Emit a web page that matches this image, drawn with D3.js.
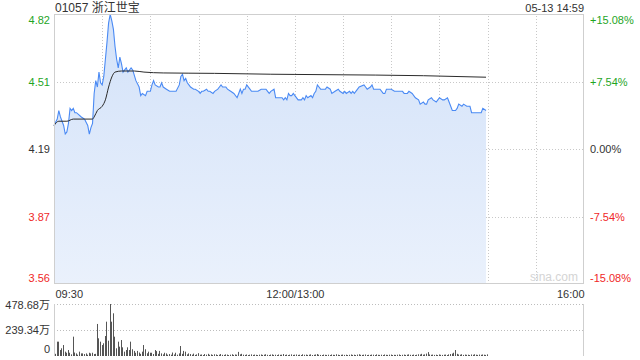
<!DOCTYPE html>
<html><head><meta charset="utf-8">
<script src="https://cdn.jsdelivr.net/npm/d3@7"></script>
<style>
html,body{margin:0;padding:0;background:#fff;}
svg{display:block;font-family:"Liberation Sans",Arial,sans-serif;}
</style></head>
<body>
<svg id="c" width="640" height="360"></svg>
<script>
// ---- data ----
const title = "01057 浙江世宝";
const stamp = "05-13 14:59";
const prevClose = 4.19;
const priceTickLabels = ["4.82", "4.51", "4.19", "3.87", "3.56"];
const pctTickLabels = ["+15.08%", "+7.54%", "0.00%", "-7.54%", "-15.08%"];
const timeLabels = ["09:30", "12:00/13:00", "16:00"];
const timeLabelMinutes = [0, 150, 330];
const volTickLabels = ["478.68万", "239.34万", "0"];
const volTickValues = [478.68, 239.34, 0];

// minutes since 09:30 (lunch break removed) and price
const priceMinutes = [0,2,3,4,6,7,8,9,10,11,12,13,14,17,19,21,22,23,24,25,26,27,28,29,30,31,32,33,34,35,36,37,38,39,40,41,42,43,44,45,46,48,49,51,53,54,55,57,58,60,61,62,63,65,66,67,68,70,72,73,75,76,78,79,80,81,82,83,84,85,87,88,90,91,92,93,95,96,97,99,100,102,103,104,105,107,108,110,112,114,115,116,117,118,119,120,122,123,125,127,129,131,132,133,134,135,137,138,139,141,142,143,144,145,146,147,148,149,150,152,154,155,156,157,158,160,161,162,163,164,165,166,167,169,170,172,173,175,177,178,180,181,182,184,185,186,187,189,190,193,194,195,197,198,199,200,202,203,205,206,207,209,210,212,214,217,218,220,221,223,225,227,228,230,231,232,233,235,236,238,239,240,242,243,245,246,248,250,251,252,254,255,257,259,260,262,263,265,266,267,269];
const prices = [4.30,4.33,4.37,4.34,4.30,4.26,4.27,4.31,4.38,4.37,4.38,4.36,4.36,4.34,4.33,4.30,4.26,4.29,4.31,4.45,4.51,4.48,4.55,4.50,4.49,4.53,4.61,4.69,4.78,4.82,4.79,4.75,4.67,4.61,4.57,4.62,4.59,4.55,4.56,4.57,4.55,4.57,4.56,4.51,4.48,4.44,4.45,4.44,4.46,4.46,4.49,4.51,4.49,4.48,4.48,4.50,4.48,4.47,4.46,4.46,4.46,4.46,4.49,4.53,4.54,4.51,4.52,4.50,4.49,4.48,4.47,4.47,4.46,4.45,4.46,4.46,4.47,4.46,4.46,4.45,4.46,4.47,4.48,4.49,4.48,4.48,4.47,4.46,4.45,4.43,4.45,4.47,4.45,4.47,4.47,4.49,4.47,4.46,4.46,4.46,4.47,4.47,4.47,4.46,4.45,4.46,4.47,4.43,4.43,4.43,4.43,4.42,4.43,4.42,4.45,4.44,4.44,4.45,4.44,4.42,4.42,4.43,4.42,4.44,4.43,4.44,4.43,4.45,4.46,4.49,4.48,4.47,4.47,4.47,4.48,4.47,4.45,4.46,4.47,4.46,4.45,4.46,4.45,4.46,4.45,4.46,4.45,4.47,4.48,4.49,4.48,4.47,4.48,4.49,4.47,4.47,4.47,4.47,4.45,4.45,4.47,4.47,4.47,4.46,4.46,4.46,4.45,4.45,4.46,4.45,4.43,4.42,4.40,4.41,4.40,4.40,4.42,4.43,4.42,4.41,4.42,4.43,4.42,4.42,4.43,4.41,4.37,4.37,4.38,4.40,4.39,4.40,4.39,4.39,4.36,4.36,4.36,4.36,4.36,4.38,4.37];

// average price line
const avgMinutes = [0,3,8,12,19,24,25,27,30,32,34,36,38,42,50,56,68,100,135,150,200,230,269];
const avgPrices = [4.30,4.32,4.32,4.33,4.33,4.33,4.34,4.37,4.39,4.42,4.48,4.527,4.55,4.555,4.555,4.55,4.546,4.544,4.540,4.539,4.536,4.533,4.526];

// volume per minute, in 万 shares (minute 0 .. 269)
const volumes = [20,132,132,55,71,101,40,30,55,30,15,178,32,24,12,40,24,24,18,24,12,30,24,30,18,20,295,163,132,101,117,184,316,141,478.68,316,393,178,71,132,86,147,80,40,55,80,55,132,62,47,30,47,32,20,40,101,62,25,40,30,30,18,55,45,20,47,24,15,30,24,12,18,12,32,14,30,12,24,92,20,47,40,15,24,
18,12,22,10,15,26,12,14,9,18,12,20,11,15,10,16,14,9,12,18,11,10,15,13,9,12,16,10,14,12,38,15,20,12,10,14,9,12,15,10,13,11,9,12,14,10,12,16,11,9,13,15,10,12,9,14,11,12,18,10,13,9,12,15,10,12,
14,10,12,9,16,11,13,10,12,15,9,11,14,18,12,10,9,13,11,10,12,9,14,11,10,16,12,9,11,13,10,12,9,11,14,10,12,9,13,16,11,10,12,14,9,11,10,13,12,9,15,11,10,12,9,14,11,10,12,13,9,11,10,12,14,9,11,13,10,12,15,11,10,13,9,12,16,14,20,12,15,22,36,14,11,13,10,12,9,14,11,10,12,13,9,15,18,22,30,55,20,14,12,16,10,13,11,12,9,14,11,16,12,10,13,11,14,12,10,15];

// ---- drawing ----
const svg = d3.select("#c");
const L = 54, R = 584, T = 14, B = 284;
const VT = 304, VB = 356;
const green = "#1fa51f", red = "#f02828", dark = "#333";
const lblColors = [green, green, dark, red, red];

const x = d3.scaleLinear().domain([0, 330]).range([L, R]);
const y = d3.scaleLinear().domain([prevClose * (1 - 0.1508), prevClose * (1 + 0.1508)]).range([B, T]);
const vy = d3.scaleLinear().domain([0, 478.68]).range([VB, VT]);
const tickVals = [1.1508, 1.0754, 1, 0.9246, 0.8492].map(f => prevClose * f);

// gradient
const defs = svg.append("defs");
const g = defs.append("linearGradient").attr("id", "fillg").attr("x1", 0).attr("y1", 0).attr("x2", 0).attr("y2", 1);
g.append("stop").attr("offset", "0%").attr("stop-color", "#d3e2f9");
g.append("stop").attr("offset", "100%").attr("stop-color", "#eaf1fc");

// vertical grid (every 30 min)
const gridMins = d3.range(30, 330, 30);
svg.append("g").attr("transform", `translate(0,${B})`)
  .call(d3.axisBottom(x).tickValues(gridMins).tickSize(-(B - T)).tickFormat(""))
  .call(s => s.select(".domain").remove())
  .call(s => s.selectAll("line").attr("stroke", "#c8c8c8").attr("stroke-dasharray", "1,2").attr("shape-rendering", "crispEdges"));

// horizontal grid
svg.append("g").attr("transform", `translate(${L},0)`)
  .call(d3.axisLeft(y).tickValues(tickVals.slice(1, 4)).tickSize(-(R - L)).tickFormat(""))
  .call(s => s.select(".domain").remove())
  .call(s => s.selectAll("line").attr("stroke", "#c8c8c8").attr("stroke-dasharray", "1,2").attr("shape-rendering", "crispEdges"));

// area + line
const pts = priceMinutes.map((m, i) => [m, prices[i]]);
svg.append("path").datum(pts)
  .attr("d", d3.area().x(d => x(d[0])).y0(B).y1(d => y(d[1])))
  .attr("fill", "url(#fillg)");
svg.append("path").datum(pts)
  .attr("d", d3.line().x(d => x(d[0])).y(d => y(d[1])))
  .attr("fill", "none").attr("stroke", "#4a8af4").attr("stroke-width", 1.1);
const apts = avgMinutes.map((m, i) => [m, avgPrices[i]]);
svg.append("path").datum(apts)
  .attr("d", d3.line().x(d => x(d[0])).y(d => y(d[1])).curve(d3.curveMonotoneX))
  .attr("fill", "none").attr("stroke", "#2b2b2b").attr("stroke-width", 1);

// border
svg.append("rect").attr("x", L + 0.5).attr("y", T + 0.5).attr("width", R - L - 1).attr("height", B - T - 1)
  .attr("fill", "none").attr("stroke", "#cfcfcf");

// left labels
const leftAx = svg.append("g").attr("transform", `translate(${L},0)`)
  .call(d3.axisLeft(y).tickValues(tickVals).tickSize(0).tickPadding(4).tickFormat((d, i) => priceTickLabels[i]));
leftAx.select(".domain").remove();
leftAx.selectAll("text").attr("font-size", 11).attr("font-family", "Liberation Sans, Arial, sans-serif")
  .attr("fill", (d, i) => lblColors[i])
  .attr("dy", (d, i) => i === 0 ? "0.9em" : i === 4 ? "-0.25em" : "0.32em");

// right labels
const rightAx = svg.append("g").attr("transform", `translate(${R},0)`)
  .call(d3.axisRight(y).tickValues(tickVals).tickSize(0).tickPadding(6).tickFormat((d, i) => pctTickLabels[i]));
rightAx.select(".domain").remove();
rightAx.selectAll("text").attr("font-size", 11).attr("font-family", "Liberation Sans, Arial, sans-serif")
  .attr("fill", (d, i) => lblColors[i])
  .attr("dy", (d, i) => i === 0 ? "0.9em" : i === 4 ? "-0.25em" : "0.32em");

// time labels
const tAx = svg.append("g").attr("transform", `translate(0,${B})`)
  .call(d3.axisBottom(x).tickValues(timeLabelMinutes).tickSize(0).tickPadding(6).tickFormat((d, i) => timeLabels[i]));
tAx.select(".domain").remove();
tAx.selectAll("text").attr("font-size", 11).attr("fill", dark).attr("font-family", "Liberation Sans, Arial, sans-serif")
  .attr("text-anchor", (d, i) => i === 0 ? "start" : i === 2 ? "end" : "middle")
  .attr("dx", (d, i) => i === 0 ? 1 : 0);

// title
svg.append("text").attr("x", L + 1).attr("y", 12).attr("font-size", 12).attr("fill", dark)
  .attr("font-family", "Liberation Sans, 'Noto Sans CJK SC', sans-serif").text(title);
svg.append("text").attr("x", R).attr("y", 12).attr("font-size", 11).attr("fill", dark)
  .attr("text-anchor", "end").text(stamp);

// watermark
svg.append("text").attr("x", R - 6).attr("y", B - 3).attr("font-size", 12).attr("fill", "#d4d4d4")
  .attr("text-anchor", "end").text("sina.com");

// volume panel
svg.append("g").attr("transform", `translate(${L},0)`)
  .call(d3.axisLeft(vy).tickValues([478.68, 239.34]).tickSize(-(R - L)).tickFormat(""))
  .call(s => s.select(".domain").remove())
  .call(s => s.selectAll("line").attr("stroke", "#bdbdbd").attr("stroke-dasharray", "1,2").attr("shape-rendering", "crispEdges"));
svg.append("line").attr("x1", L + 0.5).attr("x2", L + 0.5).attr("y1", VT).attr("y2", VB).attr("stroke", "#cfcfcf");
svg.append("line").attr("x1", R - 0.5).attr("x2", R - 0.5).attr("y1", VT).attr("y2", VB).attr("stroke", "#cfcfcf");

svg.append("g").selectAll("rect").data(volumes).join("rect")
  .attr("x", (d, i) => Math.round(x(i)) + 1)
  .attr("y", d => vy(d))
  .attr("width", 1)
  .attr("height", d => VB - vy(d))
  .attr("fill", "#555");

const vAx = svg.append("g").attr("transform", `translate(${L},0)`)
  .call(d3.axisLeft(vy).tickValues(volTickValues).tickSize(0).tickPadding(4).tickFormat((d, i) => volTickLabels[i]));
vAx.select(".domain").remove();
vAx.selectAll("text").attr("font-size", 11).attr("fill", dark)
  .attr("font-family", "Liberation Sans, 'Noto Sans CJK SC', sans-serif")
  .attr("dy", (d, i) => i === 0 ? "0.45em" : i === 2 ? "-0.35em" : "0.32em");
</script>
</body></html>
